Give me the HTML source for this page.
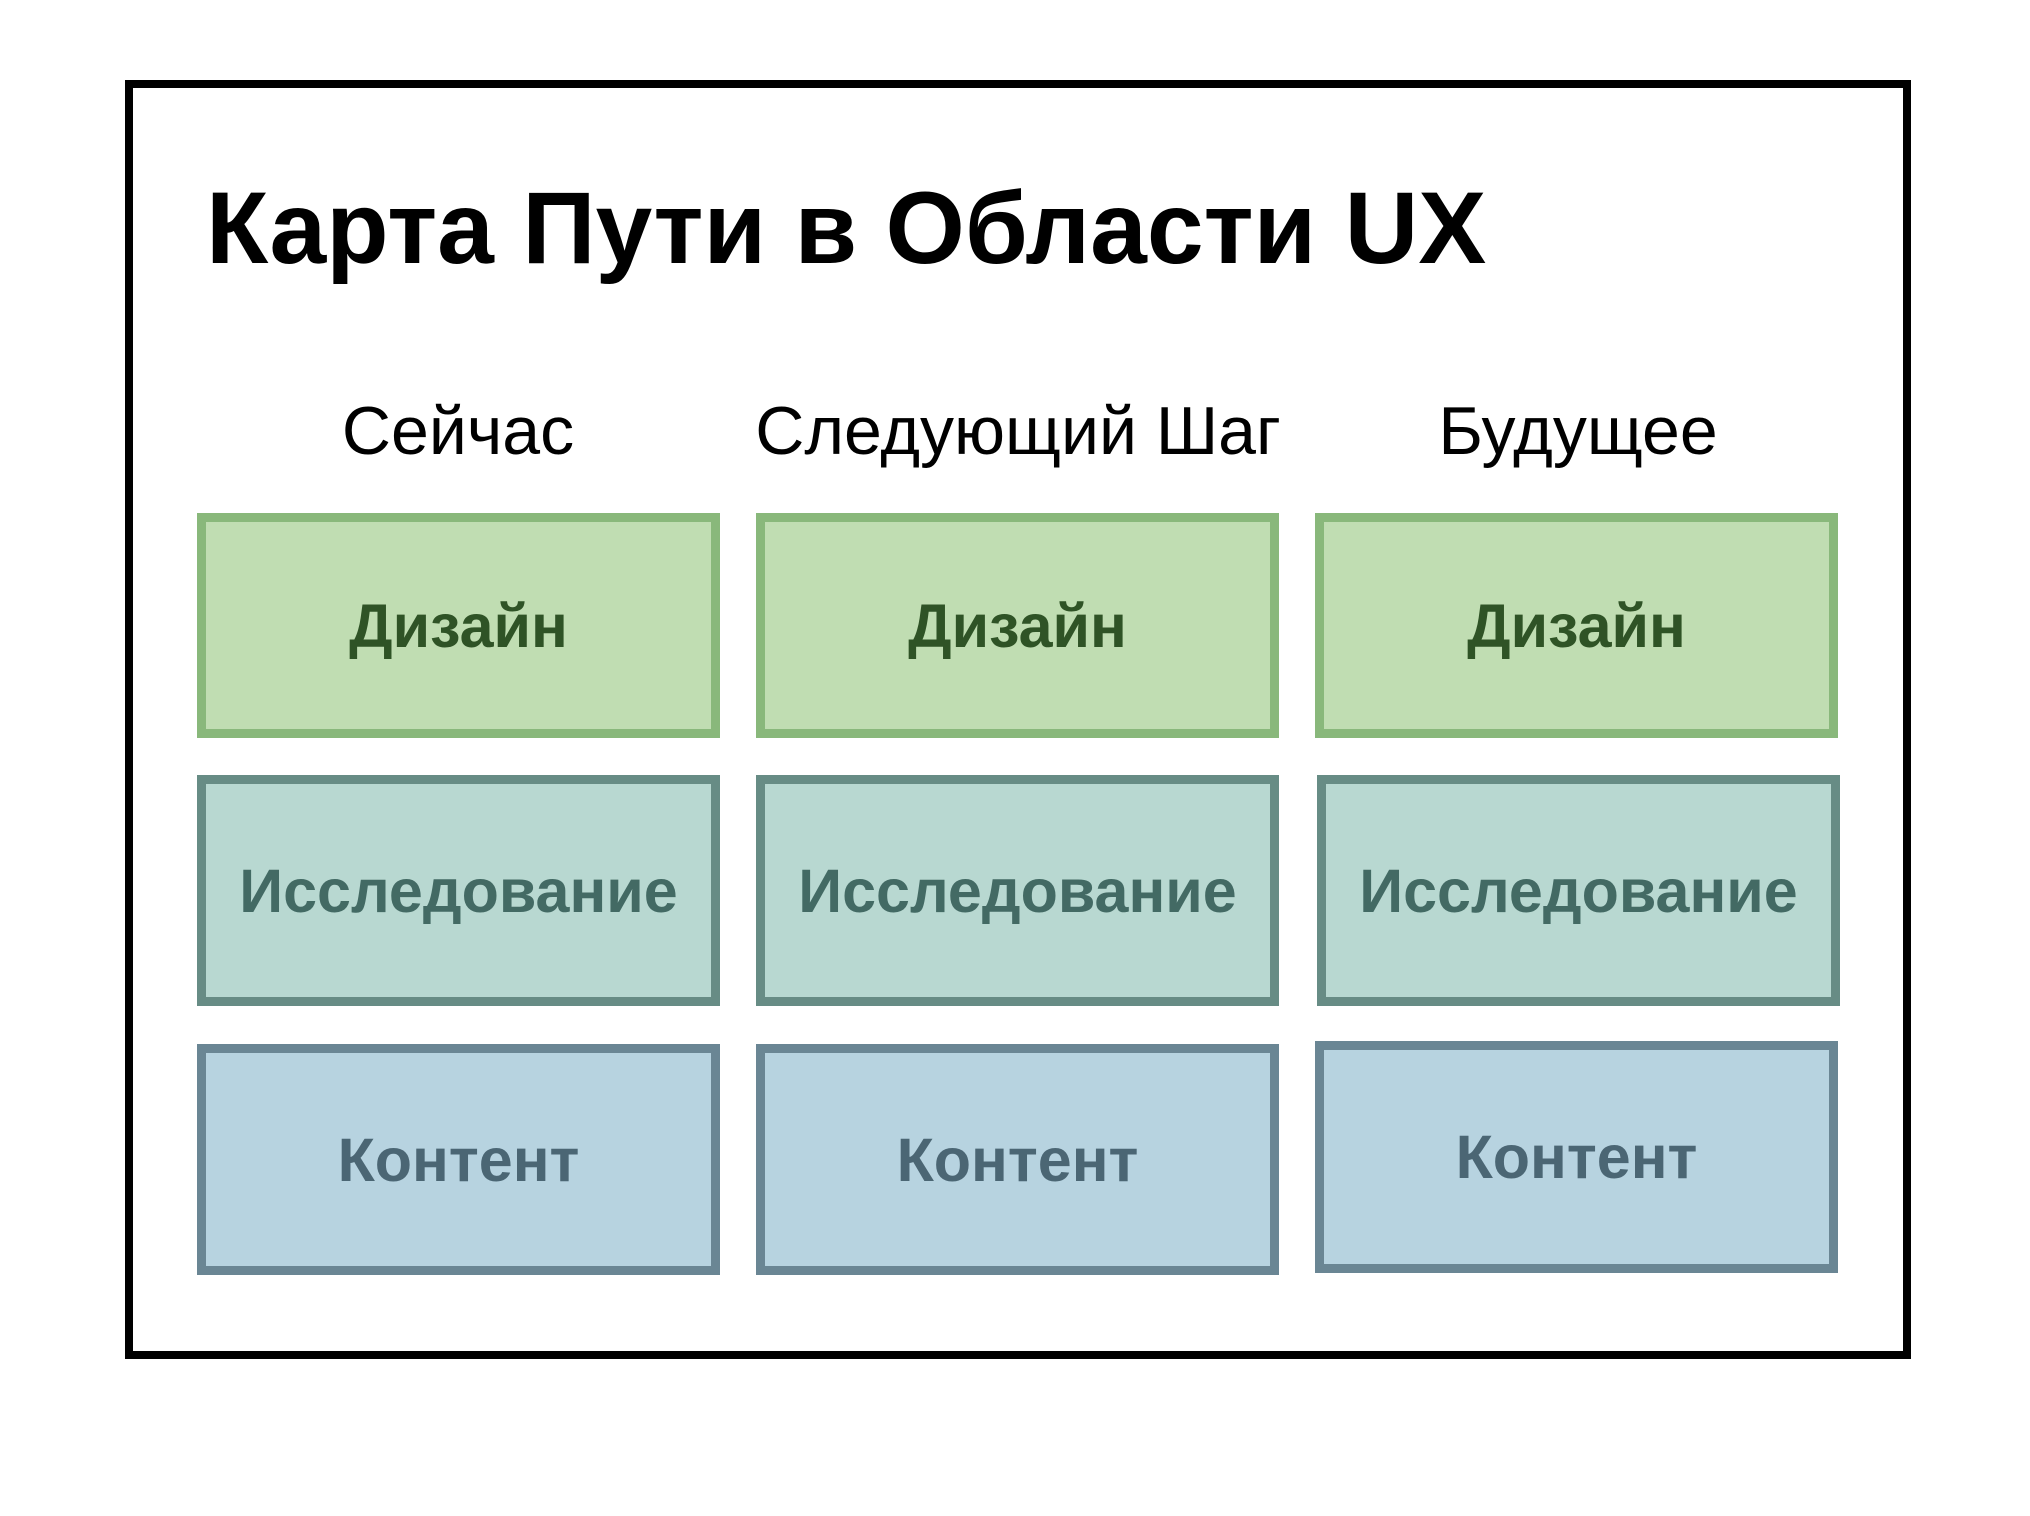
<!DOCTYPE html>
<html><head><meta charset="utf-8"><style>
html,body{margin:0;padding:0;background:#fff;}
body{width:2030px;height:1516px;position:relative;overflow:hidden;font-family:"Liberation Sans","DejaVu Sans",sans-serif;}
.frame{position:absolute;left:125px;top:80px;width:1770px;height:1263px;border:8px solid #000;}
.title{position:absolute;left:206px;top:168px;font-size:102px;font-weight:bold;line-height:120px;color:#000;white-space:nowrap;}
.hdr{position:absolute;top:396px;font-size:68px;line-height:70px;color:#000;text-align:center;width:700px;white-space:nowrap;}
.box{position:absolute;box-sizing:border-box;border:9px solid;display:flex;align-items:center;justify-content:center;font-weight:bold;font-size:61px;}
.g{background:#c0ddb2;border-color:#89b87b;color:#2f5326;}
.t{background:#b8d8d1;border-color:#678c85;color:#436a64;}
.b{background:#b7d3e0;border-color:#6a8694;color:#4b6674;}
</style></head><body>
<div class="frame"></div>
<div class="title">Карта Пути в Области UX</div>
<div class="hdr" style="left:108px">Сейчас</div>
<div class="hdr" style="left:668px">Следующий Шаг</div>
<div class="hdr" style="left:1228px">Будущее</div>

<div class="box g" style="left:197px;top:513px;width:523px;height:225px">Дизайн</div>
<div class="box g" style="left:756px;top:513px;width:523px;height:225px">Дизайн</div>
<div class="box g" style="left:1315px;top:513px;width:523px;height:225px">Дизайн</div>

<div class="box t" style="left:197px;top:775px;width:523px;height:231px">Исследование</div>
<div class="box t" style="left:756px;top:775px;width:523px;height:231px">Исследование</div>
<div class="box t" style="left:1317px;top:775px;width:523px;height:231px">Исследование</div>

<div class="box b" style="left:197px;top:1044px;width:523px;height:231px">Контент</div>
<div class="box b" style="left:756px;top:1044px;width:523px;height:231px">Контент</div>
<div class="box b" style="left:1315px;top:1041px;width:523px;height:232px">Контент</div>
</body></html>
